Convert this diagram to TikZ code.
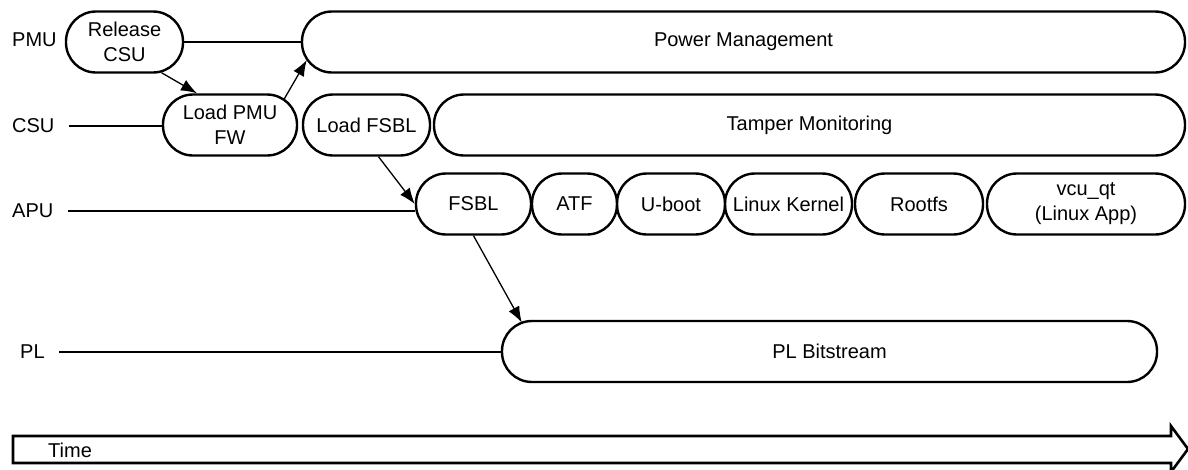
\documentclass[tikz,border=0pt]{standalone}
\usepackage{fontspec}
\setmainfont{Liberation Sans}
\usetikzlibrary{arrows.meta,calc}
\begin{document}
\begin{tikzpicture}[x=1pt, y=1pt, >={Latex[length=16pt,width=12pt]},
	pill/.style={draw, line width=2.4pt, rectangle, rounded corners=30pt, minimum height=61pt, inner sep=0pt, align=center, font=\fontsize{20}{25}\selectfont},
	lanename/.style={anchor=west, inner sep=0pt, font=\fontsize{20}{24}\selectfont},
	laneline/.style={line width=2pt, shorten <=14pt},
	step arrow/.style={line width=1.3pt, ->}]
		\useasboundingbox (0,0) rectangle (1188,-469);
		\node[lanename] (pmu) at (12,-40) {PMU};
		\node[lanename] (csu) at (12,-126) {CSU};
		\node[lanename] (apu) at (12,-211) {APU};
		\node[lanename] (pl) at (20,-352) {PL};
		\node[pill, minimum width=117pt] (rcsu) at (124.5,-42) {Release\\CSU};
		\node[pill, minimum width=883pt] (pm) at (743.5,-42) {Power Management};
		\node[pill, minimum width=134pt] (lpmu) at (230,-125) {Load PMU\\FW};
		\node[pill, minimum width=127pt] (lfsbl) at (366.5,-125) {Load FSBL};
		\node[pill, minimum width=751pt] (tamper) at (809.5,-125) {Tamper Monitoring};
		\node[pill, minimum width=115pt] (fsbl) at (473.5,-204) {FSBL};
		\node[pill, minimum width=85pt] (atf) at (574.5,-204) {ATF};
		\node[pill, minimum width=108pt] (uboot) at (671,-204) {U-boot};
		\node[pill, minimum width=127pt] (kernel) at (788.5,-204) {Linux Kernel};
		\node[pill, minimum width=128pt] (rootfs) at (919,-204) {Rootfs};
		\node[pill, minimum width=198pt] (vcu) at (1086,-204) {vcu\_qt\\(Linux App)};
		\node[pill, minimum width=655pt] (plb) at (829.5,-351.5) {PL Bitstream};
		\draw[line width=2pt] (rcsu.east) -- (pm.west);
		\draw[laneline] (csu.east) -- (csu -| lpmu.west);
		\draw[laneline] (apu.east) -- (apu -| fsbl.west);
		\draw[laneline] (pl.east) -- (pl -| plb.west);
		\draw[step arrow] ($(rcsu.south)+(37,1)$) -- ($(lpmu.north)+(-33,0)$);
		\draw[step arrow] ($(lpmu.east)+(-14,26)$) -- ($(pm.west)+(6,-18)$);
		\draw[step arrow] ($(lfsbl.south)+(12,0)$) -- (fsbl.west);
		\draw[step arrow] (fsbl.south) -- ($(plb.west)+(21,29)$);
		\draw[line width=2.6pt] (13,-436) -- (1171,-436) -- (1171,-426) -- (1188,-449) -- (1171,-472) -- (1171,-463) -- (13,-463) -- cycle;
		\node[lanename] (time) at (48,-450) {Time};
\end{tikzpicture}
\end{document}
